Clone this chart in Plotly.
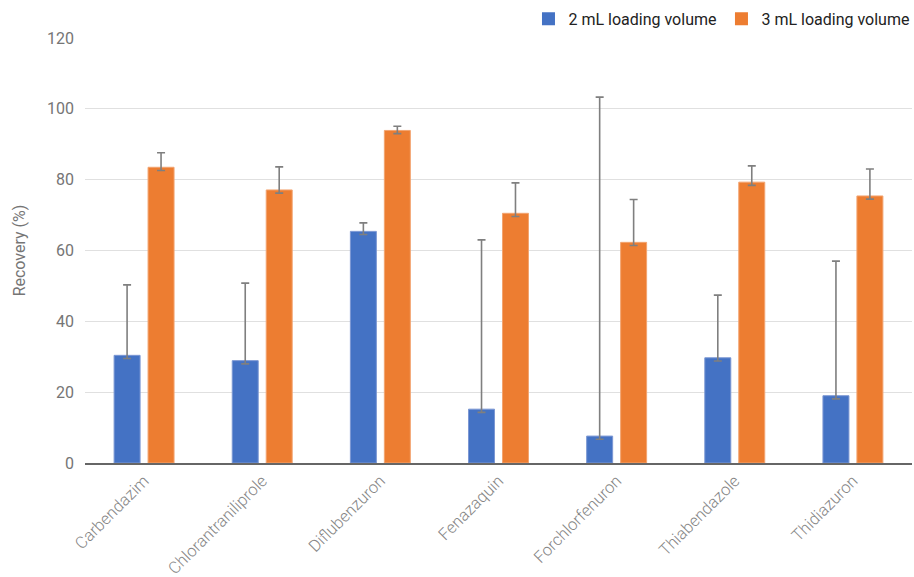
import plotly.graph_objects as go

# Recovery of each pesticide at two loading volumes
compounds = ["Carbendazim", "Chlorantraniliprole", "Diflubenzuron", "Fenazaquin",
             "Forchlorfenuron", "Thiabendazole", "Thidiazuron"]

recovery_2ml = [30.4, 28.9, 65.4, 15.2, 7.6, 29.7, 19.0]
err_plus_2ml = [19.9, 21.9, 2.4, 47.8, 95.7, 17.7, 38.0]
err_minus_2ml = [0.9, 0.9, 0.9, 0.9, 0.9, 0.9, 0.9]

recovery_3ml = [83.5, 77.1, 93.9, 70.5, 62.3, 79.3, 75.4]
err_plus_3ml = [4.1, 6.5, 1.2, 8.6, 12.1, 4.6, 7.6]
err_minus_3ml = [0.9, 0.9, 0.9, 0.9, 0.9, 0.9, 0.9]

series_names = ["2 mL loading volume", "3 mL loading volume"]
series_colors = ["#4472C4", "#ED7D31"]
y_ticks = [0, 20, 40, 60, 80, 100, 120]

GREY = "#757575"
ERR = "#7f7f7f"


def err(plus, minus):
    return dict(type="data", symmetric=False, array=plus, arrayminus=minus,
                color=ERR, thickness=1.6, width=4)


fig = go.Figure()
fig.add_trace(go.Bar(
    x=compounds, y=recovery_2ml, name=series_names[0], showlegend=False,
    marker=dict(color=series_colors[0], line=dict(color="#7b97d3", width=1)),
    error_y=err(err_plus_2ml, err_minus_2ml),
))
fig.add_trace(go.Bar(
    x=compounds, y=recovery_3ml, name=series_names[1], showlegend=False,
    marker=dict(color=series_colors[1], line=dict(color="#f3a470", width=1)),
    error_y=err(err_plus_3ml, err_minus_3ml),
))

# square legend keys
for name, color in zip(series_names, series_colors):
    fig.add_trace(go.Scatter(
        x=[None], y=[None], mode="markers", name=name,
        marker=dict(symbol="square", size=13, color=color),
    ))

fig.update_layout(
    width=914, height=577,
    margin=dict(l=85, r=2, t=38, b=114, autoexpand=False),
    paper_bgcolor="white", plot_bgcolor="white",
    font=dict(family="Roboto", size=16, color=GREY),
    barmode="group", bargap=0.425, bargroupgap=0.235,
    showlegend=True,
    legend=dict(orientation="h", x=1.003, xanchor="right", y=1.045, yanchor="middle",
                font=dict(family="Roboto", size=16, color="#222222"),
                traceorder="normal", itemwidth=30, bgcolor="rgba(0,0,0,0)"),
    xaxis=dict(tickangle=-45, showgrid=False, showline=True, linecolor="#666666",
               linewidth=1.5, ticks="", ticklabelstandoff=0, automargin=False,
               tickfont=dict(size=16.5, color="#858585", weight=300)),
    yaxis=dict(range=[0, 120], tickvals=y_ticks, showgrid=True, gridcolor="#e0e0e0",
               gridwidth=1, zeroline=False, showline=False, ticks="", automargin=False,
               ticklabelstandoff=10, tickfont=dict(size=16, color=GREY),
               title=dict(text="Recovery (%)", font=dict(size=16, color=GREY), standoff=17)),
)

fig.write_html("out.html")
